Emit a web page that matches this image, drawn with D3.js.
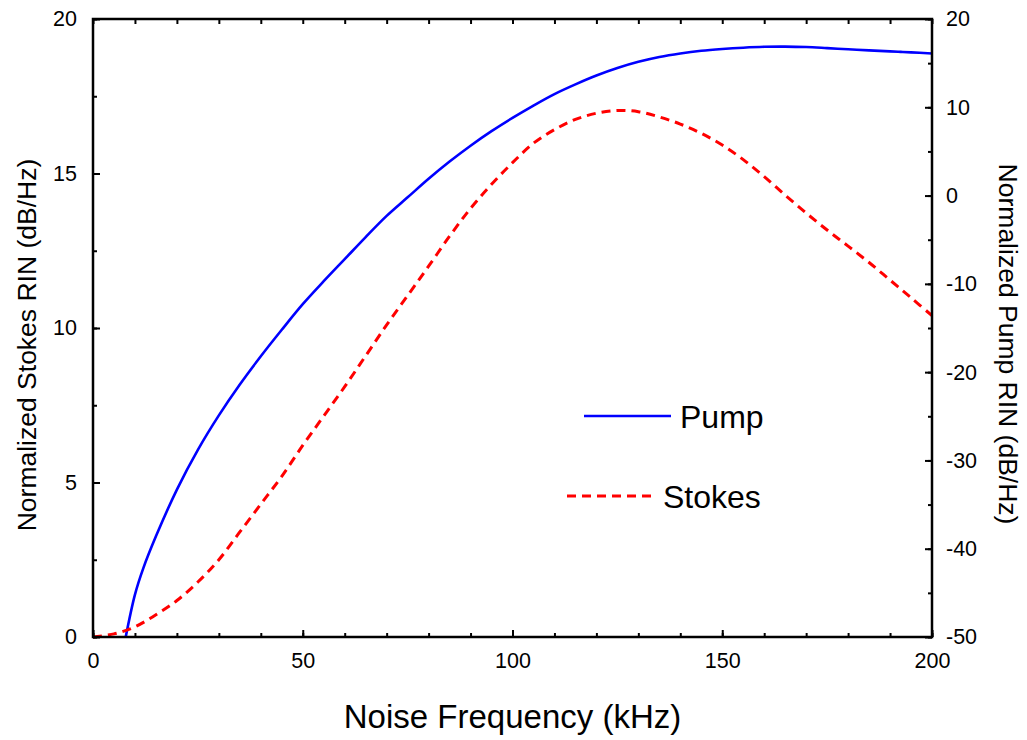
<!DOCTYPE html>
<html><head><meta charset="utf-8">
<script src="https://cdn.jsdelivr.net/npm/d3@7"></script>
<style>body{margin:0;background:#fff}svg{display:block}text{font-family:"Liberation Sans",Arial,sans-serif;fill:#000}</style>
</head><body>
<svg id="c" width="1027" height="740"></svg>
<script>
const stokesX = [0,5,10,15,20,25,30,35,40,45,50,55,60,65,70,75,80,85,90,95,100,105,110,115,120,125,130,135,140,145,150,155,160,165,170,175,180,185,190,195,200];
const stokesY = [0,0.1,0.33,0.72,1.18,1.78,2.5,3.4,4.3,5.2,6.2,7.15,8.1,9.1,10.1,11.05,12.0,12.97,13.87,14.65,15.35,15.98,16.42,16.75,16.95,17.04,17.0,16.83,16.6,16.3,15.92,15.45,14.9,14.3,13.72,13.17,12.65,12.12,11.55,10.98,10.4];
const pumpX = [7.8,10,12,15,20,25,30,35,40,45,50,55,60,65,70,75,80,85,90,95,100,105,110,115,120,125,130,135,140,145,150,155,160,165,170,175,180,185,190,195,200];
const pumpY = [-50,-45.2,-42.2,-38.6,-33.3,-28.8,-24.9,-21.4,-18.2,-15.2,-12.3,-9.7,-7.2,-4.7,-2.3,-0.2,1.9,3.85,5.65,7.3,8.8,10.2,11.5,12.6,13.6,14.45,15.15,15.7,16.1,16.4,16.6,16.75,16.85,16.87,16.82,16.7,16.57,16.45,16.33,16.22,16.1];
const xTicks = [0,50,100,150,200];
const leftTicks = [0,5,10,15,20];
const rightTicks = [-50,-40,-30,-20,-10,0,10,20];
const seriesNames = ["Pump","Stokes"];

const L=93,R=932,T=19,B=637;
const svg=d3.select("#c");
const x=d3.scaleLinear().domain([0,200]).range([L,R]);
const yL=d3.scaleLinear().domain([0,20]).range([B,T]);
const yR=d3.scaleLinear().domain([-50,20]).range([B,T]);

const pumpLine=d3.line().x(d=>x(d[0])).y(d=>yR(d[1])).curve(d3.curveCatmullRom);
const stokesLine=d3.line().x(d=>x(d[0])).y(d=>yL(d[1])).curve(d3.curveCatmullRom);
svg.append("path").datum(pumpX.map((v,i)=>[v,pumpY[i]])).attr("d",pumpLine)
  .attr("fill","none").attr("stroke","#0000ff").attr("stroke-width",2.6);
svg.append("path").datum(stokesX.map((v,i)=>[v,stokesY[i]])).attr("d",stokesLine)
  .attr("fill","none").attr("stroke","#ff0000").attr("stroke-width",3).attr("stroke-dasharray","9,6");

const fs=21.5;
const fmt=d=>String(d);
function styleAxis(g){g.select(".domain").remove();g.selectAll("line").attr("stroke","#000").attr("stroke-width",2);g.selectAll("text").style("font-size",fs+"px").attr("fill","#000");}
const xMinor=d3.range(0,201,10);
const yLMinor=d3.range(0,20.1,2.5);
const yRMinor=d3.range(-50,20.1,5);
svg.append("g").attr("transform",`translate(0,${B})`).call(d3.axisBottom(x).tickValues(xMinor).tickSize(-4).tickFormat("")).call(styleAxis);
svg.append("g").attr("transform",`translate(0,${B})`).call(d3.axisBottom(x).tickValues(xTicks).tickSize(-7).tickPadding(16).tickFormat(fmt)).call(styleAxis);
svg.append("g").attr("transform",`translate(0,${T})`).call(d3.axisTop(x).tickValues(xMinor).tickSize(-5).tickFormat("")).call(styleAxis);
svg.append("g").attr("transform",`translate(${L},0)`).call(d3.axisLeft(yL).tickValues(yLMinor).tickSize(-4).tickFormat("")).call(styleAxis);
svg.append("g").attr("transform",`translate(${L},0)`).call(d3.axisLeft(yL).tickValues(leftTicks).tickSize(-7).tickPadding(16).tickFormat(fmt)).call(styleAxis);
svg.append("g").attr("transform",`translate(${R},0)`).call(d3.axisRight(yR).tickValues(yRMinor).tickSize(-4).tickFormat("")).call(styleAxis);
svg.append("g").attr("transform",`translate(${R},0)`).call(d3.axisRight(yR).tickValues(rightTicks).tickSize(-7).tickPadding(14).tickFormat(fmt)).call(styleAxis);

svg.append("rect").attr("x",L).attr("y",T).attr("width",R-L).attr("height",B-T).attr("fill","none").attr("stroke","#000").attr("stroke-width",2.5);

svg.append("text").attr("x",(L+R)/2).attr("y",728).attr("text-anchor","middle").style("font-size","33px").text("Noise Frequency (kHz)");
svg.append("text").attr("transform",`translate(36,${345}) rotate(-90)`).attr("text-anchor","middle").style("font-size","26.5px").text("Normalized Stokes RIN (dB/Hz)");
svg.append("text").attr("transform",`translate(999,${344}) rotate(90)`).attr("text-anchor","middle").style("font-size","26.5px").text("Normalized Pump RIN (dB/Hz)");

const leg=svg.append("g");
leg.append("line").attr("x1",584).attr("x2",671).attr("y1",416).attr("y2",416).attr("stroke","#0000ff").attr("stroke-width",2.6);
leg.append("text").attr("x",680).attr("y",428).style("font-size","32px").text(seriesNames[0]);
leg.append("line").attr("x1",567).attr("x2",655).attr("y1",496).attr("y2",496).attr("stroke","#ff0000").attr("stroke-width",3).attr("stroke-dasharray","9,6");
leg.append("text").attr("x",663).attr("y",508).style("font-size","32px").text(seriesNames[1]);
</script>
</body></html>
